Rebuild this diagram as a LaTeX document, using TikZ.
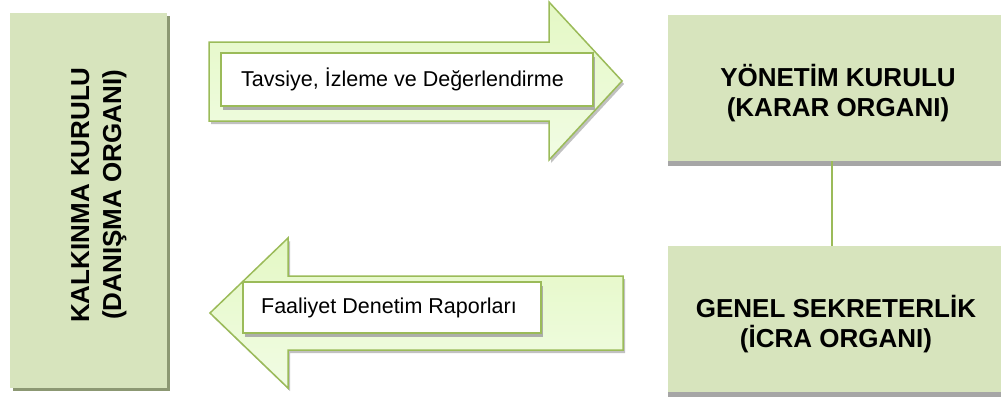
\documentclass[tikz,border=0pt]{standalone}
\usepackage{fontspec}
\setmainfont{Liberation Sans}
\usetikzlibrary{shadows}
\definecolor{boxfill}{HTML}{D7E4BD}
\definecolor{leftshadow}{HTML}{8C9873}
\definecolor{grayshadow}{HTML}{A6A6A6}
\definecolor{arrowline}{HTML}{9BBB59}
\definecolor{arrowtop}{HTML}{E4F8C4}
\definecolor{arrowmid}{HTML}{DBF5B1}
\definecolor{arrowbot}{HTML}{F1FCE4}
\begin{document}
\begin{tikzpicture}[x=1pt,y=-1pt,
  bigtext/.style={font=\fontsize{26}{30}\selectfont\bfseries, align=center, text=black, inner sep=0pt},
  smalltext/.style={font=\fontsize{21.5}{25}\selectfont, text=black},
  orgbox/.style={rectangle, fill=boxfill, inner sep=0pt},
  arrowshape/.style={draw=arrowline, line width=1.5pt, line join=miter,
    top color=arrowtop, middle color=arrowmid, bottom color=arrowbot,
    drop shadow={shadow xshift=2pt, shadow yshift=-3pt, fill=grayshadow, opacity=0.7}},
  labelbox/.style={rectangle, draw=arrowline, line width=1.5pt, fill=white, inner sep=0pt,
    drop shadow={shadow xshift=1.5pt, shadow yshift=-4pt, fill=grayshadow, opacity=0.9}},
  connector/.style={draw=arrowline, line width=1.5pt}
]
\useasboundingbox (0,0) rectangle (1001,397);

% left box
\node[orgbox, minimum width=157pt, minimum height=375pt,
  drop shadow={shadow xshift=3pt, shadow yshift=-3pt, fill=leftshadow, opacity=1}]
  (kalkinma) at (88.5,200.5) {};
\node[bigtext, font=\fontsize{26}{32}\selectfont\bfseries, rotate=90]
  (kalkinmatext) at (99,195) {KALKINMA KURULU\\(DANIŞMA ORGANI)};

% right boxes
\node[orgbox, minimum width=333pt, minimum height=146pt,
  drop shadow={shadow xshift=0pt, shadow yshift=-5pt, fill=grayshadow, opacity=1}]
  (yonetim) at (834.5,88) {};
\node[bigtext] (yonetimtext) at (838,93) {YÖNETİM KURULU\\(KARAR ORGANI)};
\node[orgbox, minimum width=333pt, minimum height=146pt,
  drop shadow={shadow xshift=0pt, shadow yshift=-5pt, fill=grayshadow, opacity=1}]
  (genel) at (834.5,319) {};
\node[bigtext] (geneltext) at (836,324) {GENEL SEKRETERLİK\\(İCRA ORGANI)};

\draw[connector] ([xshift=-2.5pt]yonetim.south) -- ([xshift=-2.5pt]genel.north);

% top arrow
\path[arrowshape] (209,42) -- (549,42) -- (549,2) -- (622,81) -- (549,160)
  -- (549,121) -- (209,121) -- cycle;
\node[labelbox, minimum width=372pt, minimum height=53pt]
  (tavsiye) at (407,79.5) {};
\node[smalltext, inner sep=0pt] (tavsiyetext) at (402.5,79.5) {Tavsiye, İzleme ve Değerlendirme};

% bottom arrow
\path[arrowshape] (623,276) -- (288,276) -- (288,238) -- (210,313) -- (288,388)
  -- (288,350) -- (623,350) -- cycle;
\node[labelbox, minimum width=298pt, minimum height=51pt]
  (faaliyet) at (392,307.5) {};
\node[smalltext, inner sep=0pt] (faaliyettext) at (389,307.5) {Faaliyet Denetim Raporları};
\end{tikzpicture}
\end{document}
